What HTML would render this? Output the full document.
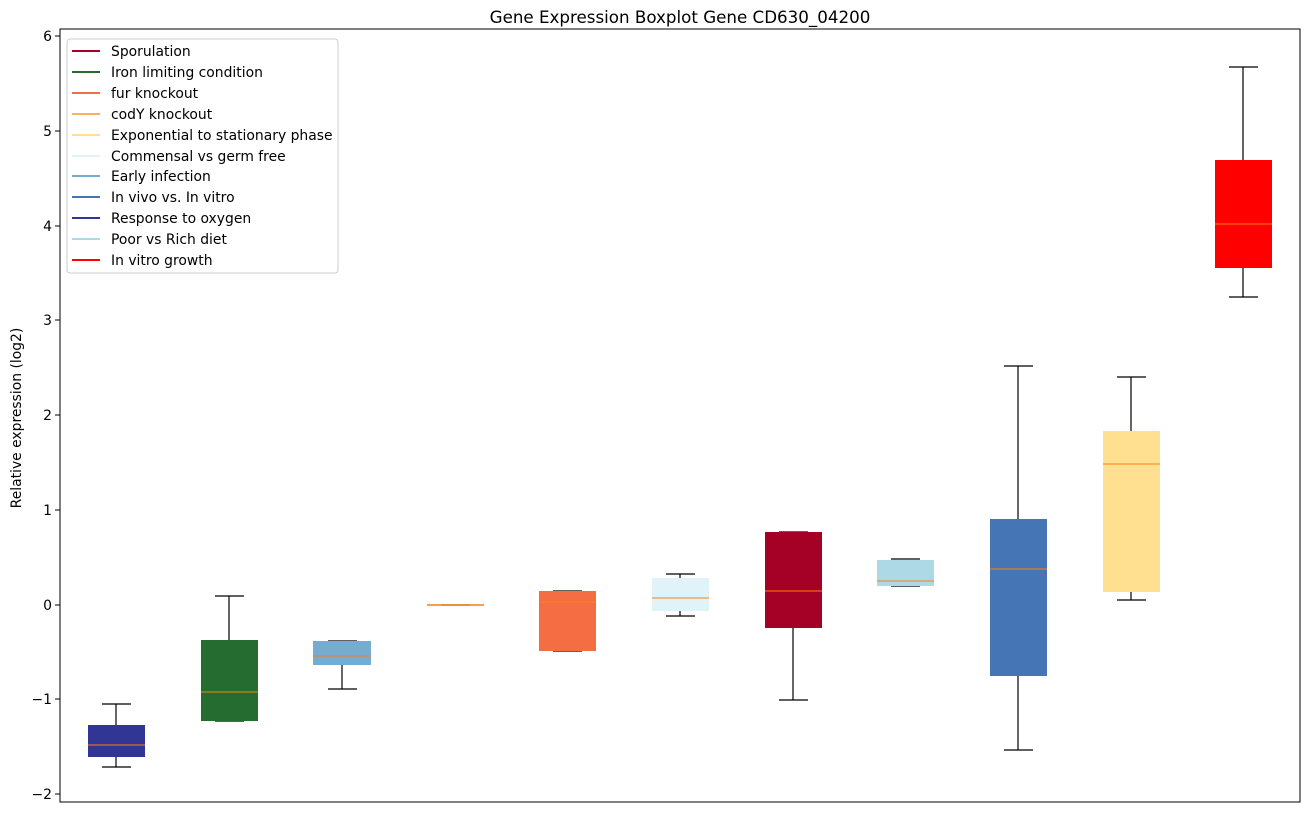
<!DOCTYPE html>
<html><head><style>body{margin:0;background:#fff}svg text{font-family:"DejaVu Sans","Liberation Sans",sans-serif}</style></head><body>
<svg width="1309" height="813" xmlns="http://www.w3.org/2000/svg">
<rect width="1309" height="813" fill="#fff"/>
<text x="680" y="23" font-size="16.7" text-anchor="middle">Gene Expression Boxplot Gene CD630_04200</text>
<g font-size="13.9" text-anchor="end">
<text x="52" y="41">6</text><text x="52" y="136">5</text><text x="52" y="231">4</text><text x="52" y="325">3</text><text x="52" y="420">2</text><text x="52" y="515">1</text><text x="52" y="610">0</text><text x="52" y="704">−1</text><text x="52" y="799">−2</text>
</g>
<g stroke="#000"><line x1="55" x2="60" y1="36" y2="36"/><line x1="55" x2="60" y1="131" y2="131"/><line x1="55" x2="60" y1="226" y2="226"/><line x1="55" x2="60" y1="320" y2="320"/><line x1="55" x2="60" y1="415" y2="415"/><line x1="55" x2="60" y1="510" y2="510"/><line x1="55" x2="60" y1="605" y2="605"/><line x1="55" x2="60" y1="699" y2="699"/><line x1="55" x2="60" y1="794" y2="794"/></g>
<text transform="translate(21,418) rotate(-90)" font-size="13.9" text-anchor="middle">Relative expression (log2)</text>
<g stroke="#000" stroke-width="1.2" fill="none">
<path d="M116 704V725M102 704H131M116 757V767M102 767H131"/>
<path d="M229 596V640M215 596H244M215 721H244"/>
<path d="M342 665V689M328 689H357M328 641H357"/>
<path d="M441 605H470"/>
<path d="M553 591H582M553 651H582"/>
<path d="M680 574V578M666 574H695M680 611V616M666 616H695"/>
<path d="M779 532H808M793 628V700M779 700H808"/>
<path d="M891 559H920M891 586H920"/>
<path d="M1018 366V519M1004 366H1033M1018 676V750M1004 750H1033"/>
<path d="M1131 377V431M1117 377H1146M1131 592V600M1117 600H1146"/>
<path d="M1243 67V160M1229 67H1258M1243 268V297M1229 297H1258"/>
</g>
<g>
<rect x="88" y="725" width="57" height="32" fill="#313695"/><line x1="88" x2="145" y1="745" y2="745" stroke="#ff7f0e"/>
<rect x="201" y="640" width="57" height="81" fill="#246c2f"/><line x1="201" x2="258" y1="692" y2="692" stroke="#ff7f0e"/>
<rect x="313" y="641" width="58" height="24" fill="#74add1"/><line x1="313" x2="371" y1="656" y2="656" stroke="#ff7f0e"/>
<line x1="427" x2="484" y1="605" y2="605" stroke="#ff7f0e" stroke-width="1.5"/>
<rect x="539" y="591" width="57" height="60" fill="#f46d43"/><line x1="539" x2="596" y1="602" y2="602" stroke="#ff7f0e"/>
<rect x="652" y="578" width="57" height="33" fill="#e0f3f8"/><line x1="652" x2="709" y1="598" y2="598" stroke="#ff7f0e"/>
<rect x="765" y="532" width="57" height="96" fill="#a50026"/><line x1="765" x2="822" y1="591" y2="591" stroke="#ff7f0e"/>
<rect x="877" y="560" width="57" height="26" fill="#add8e6"/><line x1="877" x2="934" y1="581" y2="581" stroke="#ff7f0e"/>
<rect x="990" y="519" width="57" height="157" fill="#4575b4"/><line x1="990" x2="1047" y1="569" y2="569" stroke="#ff7f0e"/>
<rect x="1103" y="431" width="57" height="161" fill="#fee090"/><line x1="1103" x2="1160" y1="464" y2="464" stroke="#ff7f0e"/>
<rect x="1215" y="160" width="57" height="108" fill="#ff0000"/><line x1="1215" x2="1272" y1="224" y2="224" stroke="#ff7f0e"/>
</g>
<rect x="60" y="29" width="1240" height="773" fill="none" stroke="#000"/>
<rect x="67" y="39" width="271" height="234" rx="3" fill="#fff" fill-opacity="0.8" stroke="#ccc"/>
<g stroke-width="2">
<line x1="72" x2="100" y1="51" y2="51" stroke="#a50026"/>
<line x1="72" x2="100" y1="72" y2="72" stroke="#246c2f"/>
<line x1="72" x2="100" y1="93" y2="93" stroke="#f46d43"/>
<line x1="72" x2="100" y1="114" y2="114" stroke="#fdae61"/>
<line x1="72" x2="100" y1="135" y2="135" stroke="#fee090"/>
<line x1="72" x2="100" y1="156" y2="156" stroke="#e0f3f8"/>
<line x1="72" x2="100" y1="176" y2="176" stroke="#74add1"/>
<line x1="72" x2="100" y1="197" y2="197" stroke="#4575b4"/>
<line x1="72" x2="100" y1="218" y2="218" stroke="#313695"/>
<line x1="72" x2="100" y1="239" y2="239" stroke="#add8e6"/>
<line x1="72" x2="100" y1="260" y2="260" stroke="#ff0000"/>
</g>
<g font-size="13.9">
<text x="111" y="56">Sporulation</text>
<text x="111" y="77">Iron limiting condition</text>
<text x="111" y="98">fur knockout</text>
<text x="111" y="119">codY knockout</text>
<text x="111" y="140">Exponential to stationary phase</text>
<text x="111" y="161">Commensal vs germ free</text>
<text x="111" y="181">Early infection</text>
<text x="111" y="202">In vivo vs. In vitro</text>
<text x="111" y="223">Response to oxygen</text>
<text x="111" y="244">Poor vs Rich diet</text>
<text x="111" y="265">In vitro growth</text>
</g>
</svg>
</body></html>
